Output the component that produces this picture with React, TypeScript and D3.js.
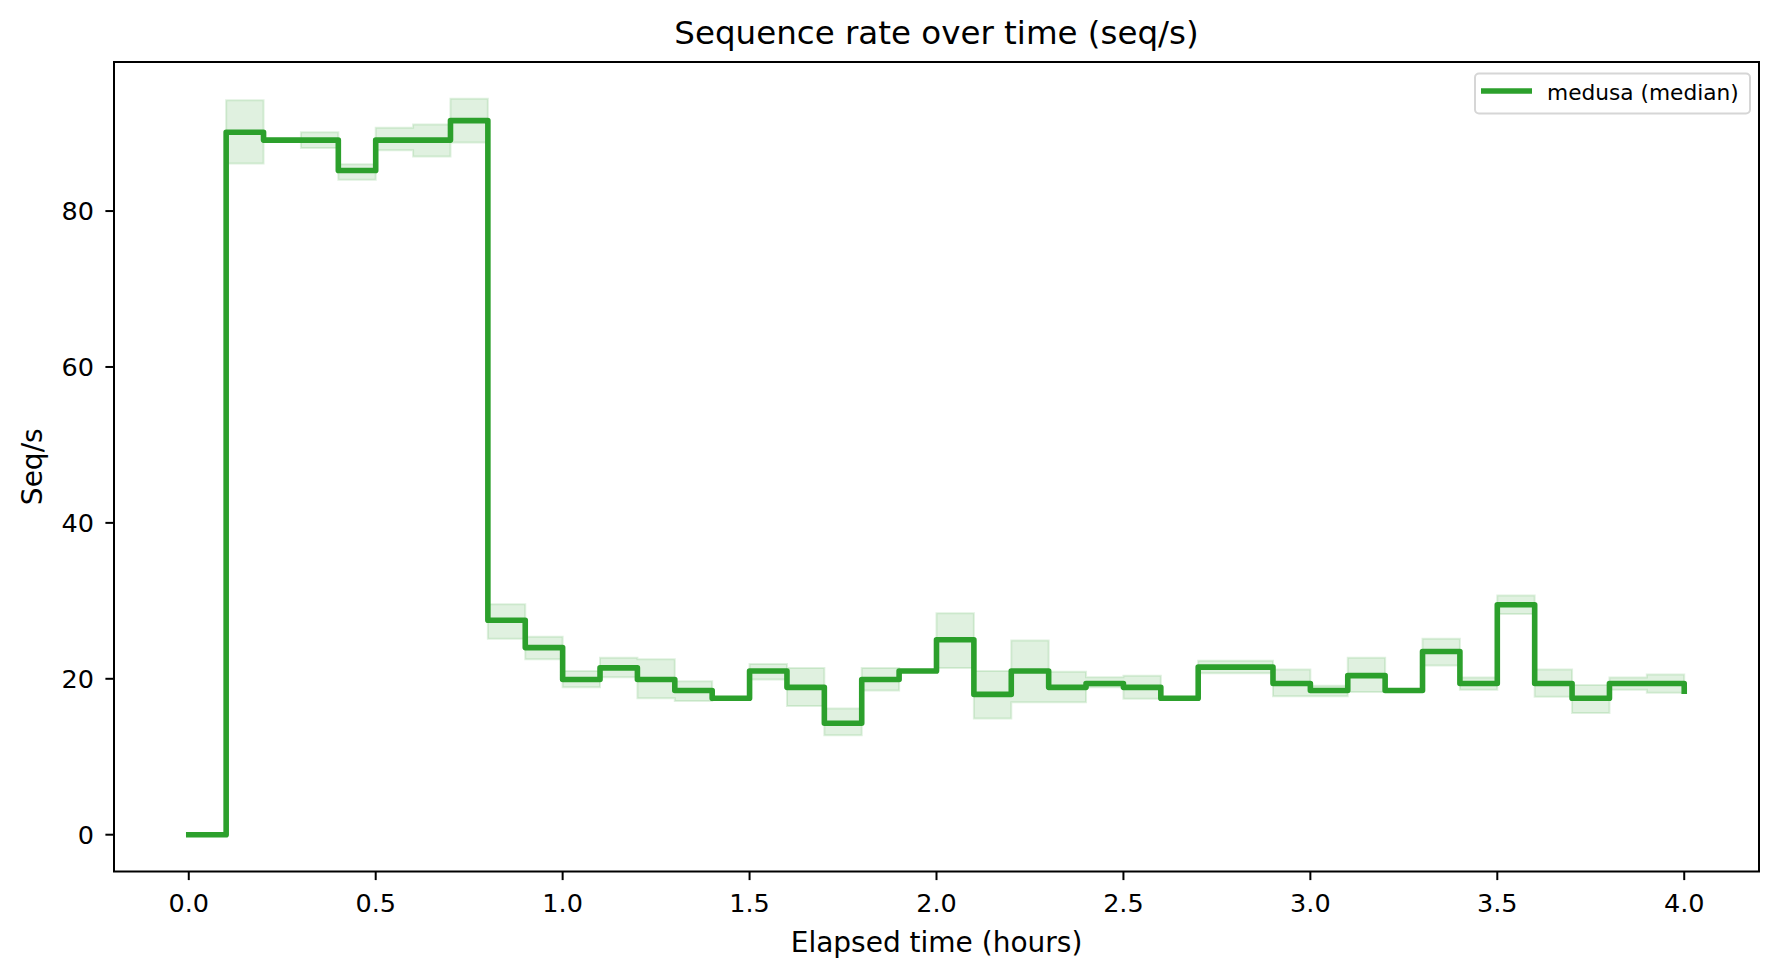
import React from 'react'
import * as d3 from 'd3'

// elapsed hours at each step start (the last one closes the final step)
const hours = [
  0.0, 0.1, 0.2, 0.3, 0.4, 0.5, 0.6, 0.7, 0.8, 0.9,
  1.0, 1.1, 1.2, 1.3, 1.4, 1.5, 1.6, 1.7, 1.8, 1.9,
  2.0, 2.1, 2.2, 2.3, 2.4, 2.5, 2.6, 2.7, 2.8, 2.9,
  3.0, 3.1, 3.2, 3.3, 3.4, 3.5, 3.6, 3.7, 3.8, 3.9, 4.0,
]

const medianRate = [
  0, 90.1, 89.1, 89.1, 85.2, 89.1, 89.1, 91.6, 27.5, 24.0,
  19.9, 21.4, 19.9, 18.5, 17.5, 21.0, 18.9, 14.3, 19.9, 21.0,
  25.0, 18.0, 21.0, 18.9, 19.4, 18.9, 17.5, 21.5, 21.5, 19.4,
  18.5, 20.4, 18.5, 23.5, 19.4, 29.5, 19.4, 17.5, 19.4, 19.4, 18.4,
]

const lowRate = [
  0, 86.1, 88.9, 88.1, 84.0, 87.8, 87.0, 88.8, 25.15, 22.5,
  18.9, 20.2, 17.5, 17.15, 17.4, 19.9, 16.5, 12.75, 18.5, 20.9,
  21.4, 14.9, 17.0, 17.0, 18.9, 17.45, 17.4, 20.7, 20.7, 17.75,
  17.75, 18.3, 18.4, 21.7, 18.6, 28.3, 17.7, 15.6, 18.6, 18.2, 18.4,
]

const highRate = [
  0, 94.2, 89.3, 90.1, 86.0, 90.7, 91.1, 94.4, 29.55, 25.4,
  21.0, 22.7, 22.5, 19.7, 17.6, 21.9, 21.4, 16.2, 21.4, 21.1,
  28.4, 21.0, 24.9, 20.9, 20.2, 20.4, 17.6, 22.3, 22.3, 21.2,
  19.1, 22.7, 18.6, 25.15, 20.15, 30.7, 21.2, 19.2, 20.15, 20.55, 18.4,
]

const seriesLabel = 'medusa (median)'
const title = 'Sequence rate over time (seq/s)'
const xLabel = 'Elapsed time (hours)'
const yLabel = 'Seq/s'

const W = 1779
const H = 978
const left = 114
const right = 1759
const top = 62
const bottom = 871.5
const green = '#2ca02c'
const font = 'DejaVu Sans, sans-serif'
const lineW = 5.6

const App: React.FC = () => {
  const xMin = d3.min(hours) as number
  const xMax = d3.max(hours) as number
  const xPad = (xMax - xMin) * 0.05
  const yLo = Math.min(d3.min(lowRate) as number, d3.min(medianRate) as number)
  const yHi = Math.max(d3.max(highRate) as number, d3.max(medianRate) as number)
  const yPad = (yHi - yLo) * 0.05

  const x = d3.scaleLinear([xMin - xPad, xMax + xPad], [left, right])
  const y = d3.scaleLinear([yLo - yPad, yHi + yPad], [bottom, top])

  const idx = hours.map((_, i) => i)

  const band = d3.area<number>()
    .x((i) => x(hours[i]))
    .y0((i) => y(lowRate[i]))
    .y1((i) => y(highRate[i]))
    .curve(d3.curveStepAfter)

  const line = d3.line<number>()
    .x((i) => x(hours[i]))
    .y((i) => y(medianRate[i]))
    .curve(d3.curveStepAfter)

  const xTicks = x.ticks(10)
  const yTicks = y.ticks(5)
  const fmtX = d3.format('.1f')

  return (
    <svg width={W} height={H} style={{ position: 'absolute', left: 0, top: 0, background: '#fff' }}>
      <rect x={0} y={0} width={W} height={H} fill="#fff" />

      {/* min/max band */}
      <path d={band(idx) ?? ''} fill={green} fillOpacity={0.15}
        stroke={green} strokeOpacity={0.15} strokeWidth={2} />

      {/* median */}
      <path d={line(idx) ?? ''} fill="none" stroke={green} strokeWidth={lineW}
        strokeLinejoin="round" strokeLinecap="square" />

      {/* frame */}
      <rect x={left} y={top} width={right - left} height={bottom - top}
        fill="none" stroke="#000" strokeWidth={2} />

      {xTicks.map((t) => (
        <g key={'x' + t}>
          <line x1={x(t)} x2={x(t)} y1={bottom} y2={bottom + 8.6} stroke="#000" strokeWidth={2} />
          <text x={x(t)} y={912} textAnchor="middle" fontFamily={font} fontSize={25.5}>{fmtX(t)}</text>
        </g>
      ))}
      {yTicks.map((t) => (
        <g key={'y' + t}>
          <line x1={left - 8.6} x2={left} y1={y(t)} y2={y(t)} stroke="#000" strokeWidth={2} />
          <text x={94} y={y(t)} dy="0.36em" textAnchor="end" fontFamily={font} fontSize={25.5}>{t}</text>
        </g>
      ))}

      <text x={(left + right) / 2} y={44} textAnchor="middle" fontFamily={font} fontSize={32.5}>{title}</text>
      <text x={(left + right) / 2} y={952} textAnchor="middle" fontFamily={font} fontSize={28}>{xLabel}</text>
      <text transform={`translate(42, ${(top + bottom) / 2}) rotate(-90)`} textAnchor="middle"
        fontFamily={font} fontSize={28}>{yLabel}</text>

      {/* legend */}
      <g>
        <rect x={1475} y={73.5} width={275} height={40} rx={4} fill="#fff" fillOpacity={0.8}
          stroke="#d6d6d6" strokeWidth={2} />
        <line x1={1481} x2={1532} y1={91} y2={91} stroke={green} strokeWidth={lineW} />
        <text x={1547} y={99.5} fontFamily={font} fontSize={21.7}>{seriesLabel}</text>
      </g>
    </svg>
  )
}

export default App
